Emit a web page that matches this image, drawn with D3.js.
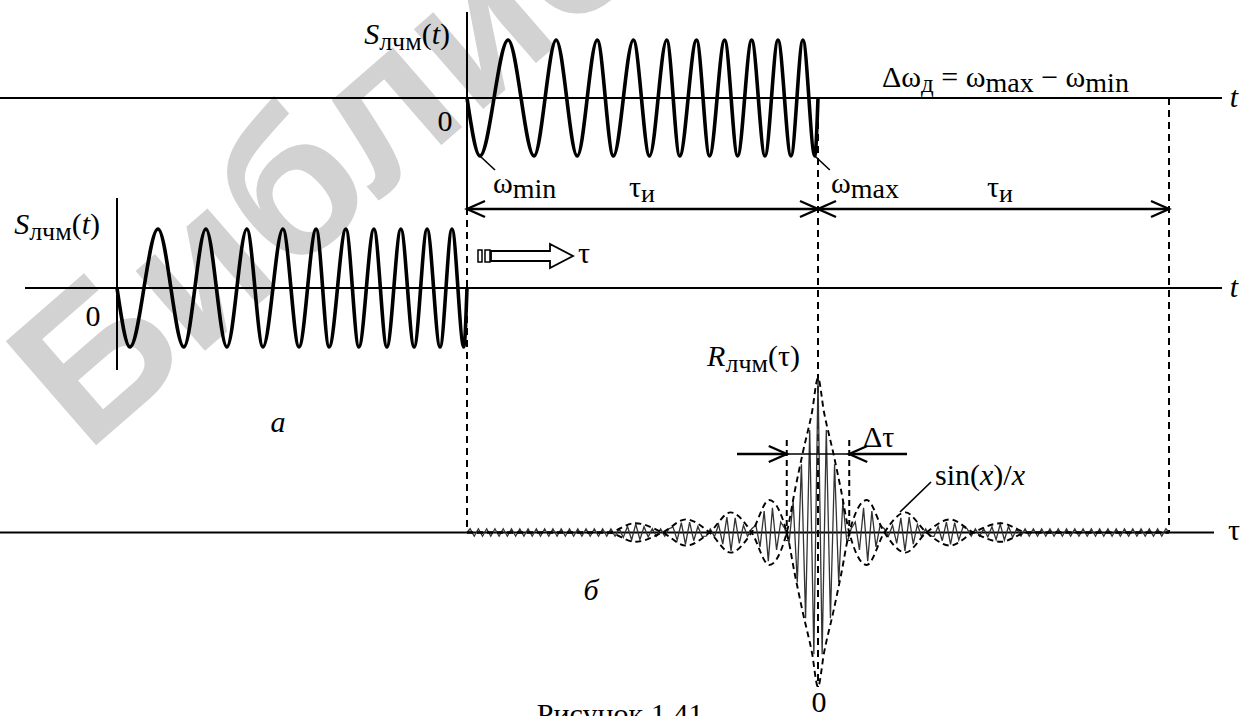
<!DOCTYPE html>
<html><head><meta charset="utf-8">
<script src="https://cdn.jsdelivr.net/npm/d3@7"></script>
<style>
html,body{margin:0;padding:0;background:#fff;}
svg{display:block;}
</style></head><body>
<svg id="chart" width="1254" height="716"></svg>
<script>
// ---------- data ----------
// LFM pulse S_лчм(t): positions of troughs and peaks as a fraction of the pulse length τи
const chirpTroughs = [0.037,0.191,0.314,0.417,0.520,0.606,0.691,0.771,0.849,0.923,0.991];
const chirpPeaks   = [0.117,0.254,0.371,0.474,0.569,0.654,0.734,0.811,0.886,0.957];
// sin(x)/x envelope of R_лчм(τ): τ in units of τи (right half, mirrored), signed level
const envTau   = [0, 0.017, 0.043, 0.066, 0.089, 0.139, 0.189, 0.249, 0.309, 0.376, 0.443, 0.521, 0.600, 1.0];
const envValue = [1, 0.78,  0.52,  0.27,  0,     -0.21, 0,     0.13,  0,     -0.085, 0,    0.06,  0,     0];
// fine oscillation of R_лчм(τ): half-period (τи units) and smallest visible swing
const corrHalfPeriod = [0.0118];
const corrFloor = [0.026];
// texts
const labelS = ["S", "лчм", "(", "t", ")"];
const labelR = ["R", "лчм", "(τ)"];
const caption = "Рисунок 1.41";
const watermark = "Библиотека";

// ---------- drawing ----------
const SERIF = '"Liberation Serif"';
const svg = d3.select("#chart");
const FS = 30, SUB = 26;

// watermark
svg.append("text")
  .attr("transform","translate(86,454) rotate(-41)")
  .style("font-family",'"Liberation Sans"')
  .attr("font-size",200).attr("font-weight","bold")
  .style("fill","#d2d2d2").text(watermark);

// scales
const xTop = d3.scaleLinear().domain([0,1]).range([467,818]);
const yTop = d3.scaleLinear().domain([-1,1]).range([156,40]);
const xLow = d3.scaleLinear().domain([0,1]).range([117,467]);
const yLow = d3.scaleLinear().domain([-1,1]).range([347,229]);
const xCorr = d3.scaleLinear().domain([-1,1]).range([467,1169]);
const yCorr = d3.scaleLinear().domain([-1,1]).range([687,378]);

const line = (p, opts) => svg.append("line").attr("x1",p[0]).attr("y1",p[1]).attr("x2",p[2]).attr("y2",p[3])
  .attr("stroke","#000").attr("stroke-width",opts && opts.w || 2)
  .attr("stroke-dasharray",opts && opts.dash || null);

// axes
line([0, yTop(0), 1222, yTop(0)]);
line([25, yLow(0), 1222, yLow(0)]);
line([0, yCorr(0), 1214, yCorr(0)]);
line([xTop(0), 12, xTop(0), 208]);
line([xLow(0), 198, xLow(0), 370]);

// dashed guides
const DASH = "7,5";
line([xTop(0), 208, xTop(0), yCorr(0)], {dash:DASH});
line([xTop(1), yTop(0), xTop(1), yCorr(-1)], {dash:DASH});
line([xCorr(1), yTop(0), xCorr(1), yCorr(0)], {dash:DASH});

// chirp data points
const chirpPts = [{t:0,v:0}]
  .concat(chirpTroughs.map(t=>({t, v:-1})), chirpPeaks.map(t=>({t, v:1})))
  .sort((a,b)=>a.t-b.t)
  .concat([{t:1,v:0}]);

function drawChirp(x, y) {
  const g = d3.line().x(d=>x(d.t)).y(d=>y(d.v)).curve(d3.curveMonotoneX);
  svg.append("path").attr("d", g(chirpPts)).attr("fill","none")
    .attr("stroke","#000").attr("stroke-width",3.6).attr("stroke-linejoin","round");
}
drawChirp(xTop, yTop);
drawChirp(xLow, yLow);

// pointers to ω_min, ω_max
const tFirst = chirpTroughs[0], tLast = chirpTroughs[chirpTroughs.length-1];
line([xTop(tFirst), yTop(-1), xTop(tFirst)+15, yTop(-1)+14], {w:1.6});
line([xTop(tLast), yTop(-1), xTop(tLast)+15, yTop(-1)+14], {w:1.6});

// τи double arrows
function arrowHead(x, y, dir) {
  svg.append("path").attr("d", `M${x-dir*18},${y-8} L${x},${y} L${x-dir*18},${y+8}`)
    .attr("fill","none").attr("stroke","#000").attr("stroke-width",2.4);
}
const yArr = 209;
line([xTop(0), yArr, xTop(1), yArr], {w:2.4});
line([xTop(1), yArr, xCorr(1), yArr], {w:2.4});
arrowHead(xTop(0), yArr, -1); arrowHead(xTop(1), yArr, 1);
arrowHead(xTop(1), yArr, -1); arrowHead(xCorr(1), yArr, 1);

// hollow arrow icon (shift direction)
svg.append("rect").attr("x",478).attr("y",250).attr("width",4).attr("height",12).attr("fill","#fff").attr("stroke","#000").attr("stroke-width",1.5);
svg.append("rect").attr("x",485).attr("y",250).attr("width",5).attr("height",12).attr("fill","#fff").attr("stroke","#000").attr("stroke-width",1.5);
svg.append("path").attr("d","M491,251 L550,251 L550,244 L573,256 L550,268 L550,261 L491,261 Z")
  .attr("fill","#fff").attr("stroke","#000").attr("stroke-width",1.8);

// correlation envelope (dashed sin(x)/x)
const envFull = envTau.slice(1).map((t,i)=>({tau:-t, v:envValue[i+1]})).reverse()
  .concat(envTau.map((t,i)=>({tau:t, v:envValue[i]})));
const envLine = s => d3.line().x(d=>xCorr(d.tau)).y(d=>yCorr(s*d.v)).curve(d3.curveMonotoneX);
const envInterp = d3.scaleLinear().domain(envTau).range(envValue).clamp(true);

// fine oscillation
const h = corrHalfPeriod[0];
const N = Math.floor(1/h);
const corrPts = [];
for (let k=-N; k<=N; k++) {
  const tau = k*h;
  let e = envInterp(Math.abs(tau));
  if (Math.abs(e) < corrFloor[0]) e = corrFloor[0];
  corrPts.push({tau, v: (k%2===0?1:-1) * e * (k===0?1:0.93)});
}
corrPts.unshift({tau:-1, v:0}); corrPts.push({tau:1, v:0});
svg.append("path").attr("d", d3.line().x(d=>xCorr(d.tau)).y(d=>yCorr(d.v))(corrPts))
  .attr("fill","none").attr("stroke","#333").attr("stroke-width",1.3);

[1,-1].forEach(s=>{
  svg.append("path").attr("d", envLine(s)(envFull)).attr("fill","none")
    .attr("stroke","#000").attr("stroke-width",1.9).attr("stroke-dasharray","6,4");
});

// Δτ marker
const dtL = xCorr(-envTau[4]), dtR = xCorr(envTau[4]);
line([dtL, 440, dtL, 541], {dash:"6,4"});
line([dtR, 440, dtR, 541], {dash:"6,4"});
const yDt = 454;
line([737, yDt, dtL, yDt], {w:2.4});
line([dtR, yDt, 907, yDt], {w:2.4});
line([dtL, yDt, dtR, yDt], {w:1.5});
arrowHead(dtL, yDt, 1); arrowHead(dtR, yDt, -1);
// pointer to sin(x)/x
line([931, 482, 900, 512], {w:1.6});

// ---------- texts ----------
function newText(x, y, opts={}) {
  return svg.append("text").attr("x",x).attr("y",y)
    .style("font-family", SERIF).attr("font-size",opts.fs||FS)
    .attr("text-anchor",opts.anchor||"start")
    .attr("font-style",opts.italic?"italic":null).attr("fill","#000");
}
function sLabel(xEnd, y) {
  const t = newText(xEnd, y, {anchor:"end"});
  t.append("tspan").attr("font-style","italic").text(labelS[0]);
  t.append("tspan").attr("font-size",SUB).attr("dy",6).text(labelS[1]);
  t.append("tspan").attr("dy",-6).text(labelS[2]);
  t.append("tspan").attr("font-style","italic").text(labelS[3]);
  t.append("tspan").text(labelS[4]);
}
sLabel(450, 44);
sLabel(100, 234);

function txt(x, y, s, opts={}) { return newText(x, y, opts).text(s); }
txt(445, 131, "0", {anchor:"middle"});
txt(93, 326, "0", {anchor:"middle"});
txt(1234, 107, "t", {anchor:"middle", italic:true});
txt(1234, 297, "t", {anchor:"middle", italic:true});
txt(1234, 540, "τ", {anchor:"middle"});

function omega(x, y, sub) {
  const t = newText(x, y);
  t.append("tspan").text("ω");
  t.append("tspan").attr("font-size",SUB+2).attr("dy",5).text(sub);
}
omega(493, 193, "min");
omega(831, 193, "max");

function tauI(xc, y) {
  const t = newText(xc, y, {anchor:"middle"});
  t.append("tspan").text("τ");
  t.append("tspan").attr("font-size",SUB).attr("dy",5).text("и");
}
tauI(642, 197);
tauI(1000, 197);

// Δω_д = ω_max − ω_min
{
  const t = newText(882, 87);
  t.append("tspan").text("Δω");
  t.append("tspan").attr("font-size",SUB-1).attr("dy",5).text("д");
  t.append("tspan").attr("dy",-5).text(" = ω");
  t.append("tspan").attr("font-size",SUB+2).attr("dy",5).text("max");
  t.append("tspan").attr("dy",-5).text(" − ω");
  t.append("tspan").attr("font-size",SUB+2).attr("dy",5).text("min");
}
txt(578, 263, "τ");
txt(278, 432, "а", {anchor:"middle", italic:true});
txt(591, 600, "б", {anchor:"middle", italic:true});
{
  const t = newText(800, 366, {anchor:"end"});
  t.append("tspan").attr("font-style","italic").text(labelR[0]);
  t.append("tspan").attr("font-size",SUB).attr("dy",6).text(labelR[1]);
  t.append("tspan").attr("dy",-6).text(labelR[2]);
}
txt(863, 447, "Δτ");
{
  const t = newText(935, 485);
  t.append("tspan").text("sin(");
  t.append("tspan").attr("font-style","italic").text("x");
  t.append("tspan").text(")/");
  t.append("tspan").attr("font-style","italic").text("x");
}
txt(819, 712, "0", {anchor:"middle"});
txt(620, 724, caption, {anchor:"middle"});
</script>
</body></html>
